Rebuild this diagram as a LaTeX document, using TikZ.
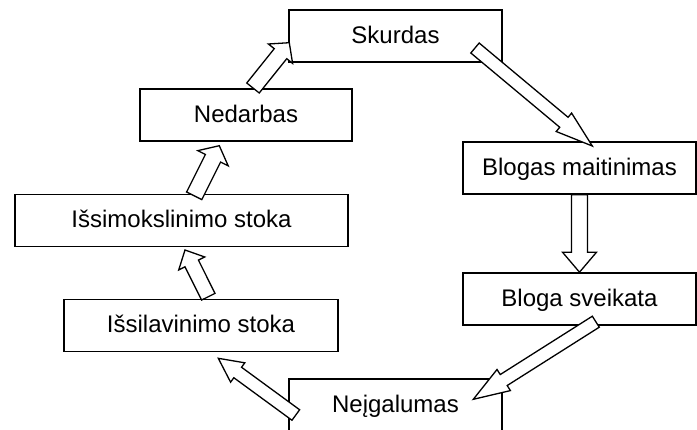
\documentclass[tikz,border=0pt]{standalone}
\usepackage{fontspec}
\setmainfont{Liberation Sans}
\usetikzlibrary{calc}

\tikzset{
  box/.style={draw,fill=white,line width=1.6pt,minimum height=52pt,inner sep=0pt,text height=18pt,text depth=4pt},
  arrowbox/.style={draw,fill=white,line width=1.3pt,line join=miter}
}

% hollow block arrow: from, to, shaft width, head width, head length
\newcommand{\blockarrow}[5]{%
  \draw[arrowbox] let \p1=(#1), \p2=(#2),
      \n1={atan2(\y2-\y1,\x2-\x1)},
      \n2={veclen(\x2-\x1,\y2-\y1)-#5pt},
      \n3={#3*0.5pt}, \n4={#4*0.5pt} in
    ($(\p1)+({\n1+90}:\n3)$) -- ($(\p1)+(\n1:\n2)+({\n1+90}:\n3)$)
    -- ($(\p1)+(\n1:\n2)+({\n1+90}:\n4)$) -- (\p2)
    -- ($(\p1)+(\n1:\n2)+({\n1-90}:\n4)$)
    -- ($(\p1)+(\n1:\n2)+({\n1-90}:\n3)$)
    -- ($(\p1)+({\n1-90}:\n3)$) -- cycle;}

\begin{document}
\begin{tikzpicture}[x=1pt,y=-1pt,font=\fontsize{24}{28}\selectfont]
\useasboundingbox (0,0) rectangle (697,429);
\node[box,minimum width=213pt] (sk) at (395.5,36) {Skurdas};
\node[box,minimum width=212pt] (ned) at (246,115) {Nedarbas};
\node[box,minimum width=333pt] (ism) at (181.5,220.5) {Išsimokslinimo stoka};
\node[box,minimum width=274pt] (isl) at (201,325.5) {Išsilavinimo stoka};
\node[box,minimum width=233pt] (bm) at (579.5,168) {Blogas maitinimas};
\node[box,minimum width=233pt] (bs) at (579.5,299) {Bloga sveikata};
\node[box,minimum width=213pt] (neig) at (395.5,405) {Neįgalumas};
% arrow ends
\coordinate (ned-out) at (253,88);
\coordinate (sk-in) at (289.3,42.7);
\coordinate (sk-out) at (475,48);
\coordinate (bm-in) at (592.3,146);
\coordinate (bs-out) at (595.8,321.7);
\coordinate (neig-in) at (473.3,399.3);
\coordinate (neig-out) at (295.8,415);
\coordinate (isl-in) at (218.3,358.3);
\coordinate (isl-out) at (208.3,296.7);
\coordinate (ism-in) at (185,250);
\coordinate (ism-out) at (194.2,195.8);
\coordinate (ned-in) at (219.3,145.7);
\blockarrow{ned-out}{sk-in}{16}{31}{14}
\blockarrow{sk-out}{bm-in}{13}{24}{37}
\blockarrow{bm.south}{bs.north}{16}{34}{20}
\blockarrow{bs-out}{neig-in}{13}{25}{36}
\blockarrow{neig-out}{isl-in}{13}{24}{24}
\blockarrow{isl-out}{ism-in}{15}{29}{15}
\blockarrow{ism-out}{ned-in}{17}{34}{14}
\end{tikzpicture}
\end{document}
